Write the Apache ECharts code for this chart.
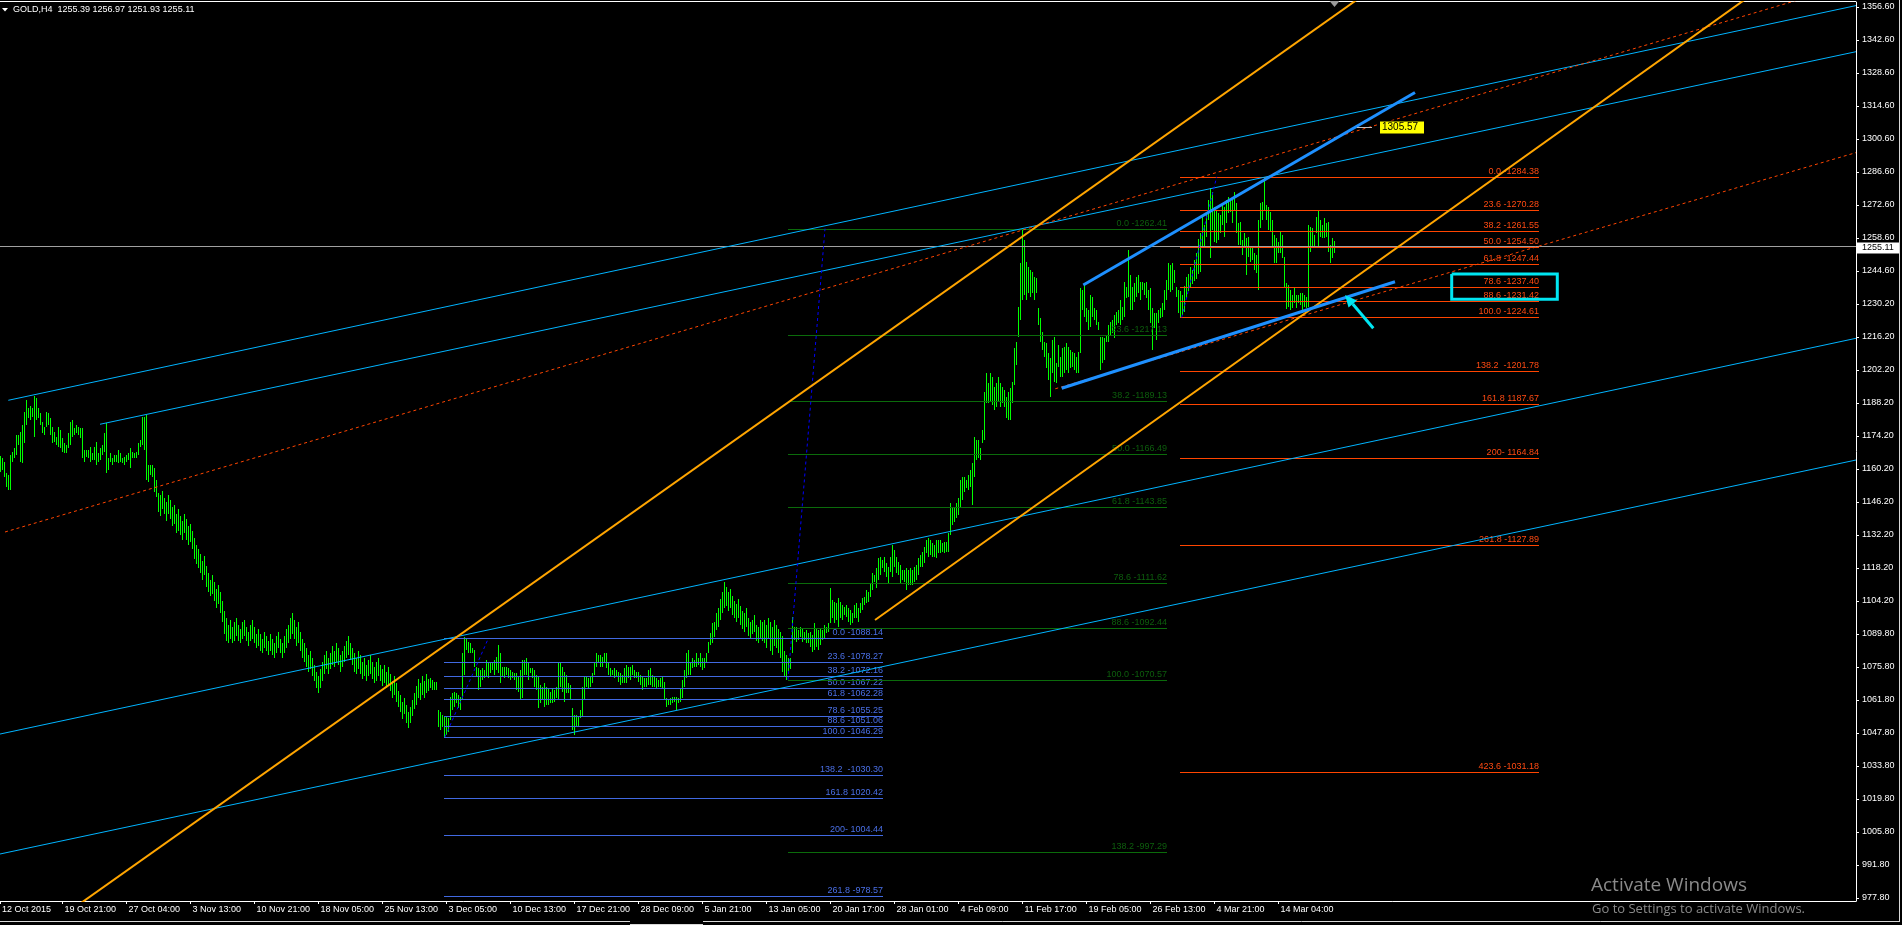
<!DOCTYPE html>
<html>
<head>
<meta charset="utf-8">
<title>GOLD,H4</title>
<script src="https://cdn.jsdelivr.net/npm/echarts@6.0.0/dist/echarts.min.js"></script>
<style>
html,body{margin:0;padding:0;background:#000;overflow:hidden;}
#chart{width:1902px;height:925px;}
</style>
</head>
<body>
<div id="chart"></div>
<script>
// ------------------------------------------------------------------ data
const symbolName = 'GOLD,H4';
const lastBarOHLC = [1255.39, 1256.97, 1251.93, 1255.11];

const xTickLabels = ['12 Oct 2015','19 Oct 21:00','27 Oct 04:00','3 Nov 13:00','10 Nov 21:00','18 Nov 05:00',
  '25 Nov 13:00','3 Dec 05:00','10 Dec 13:00','17 Dec 21:00','28 Dec 09:00','5 Jan 21:00','13 Jan 05:00',
  '20 Jan 17:00','28 Jan 01:00','4 Feb 09:00','11 Feb 17:00','19 Feb 05:00','26 Feb 13:00','4 Mar 21:00','14 Mar 04:00'];

const yTickLabels = ['977.80','991.80','1005.80','1019.80','1033.80','1047.80','1061.80','1075.80','1089.80',
  '1104.20','1118.20','1132.20','1146.20','1160.20','1174.20','1188.20','1202.20','1216.20','1230.20',
  '1244.60','1258.60','1272.60','1286.60','1300.60','1314.60','1328.60','1342.60','1356.60'];

// H4 bars (high / low), one per bar, oldest first
const barHigh = [
1165.7,1164.7,1163.3,1158.3,1157.6,1166.1,1167.5,1169.0,1174.6,1174.6,
1176.0,1178.9,1184.5,1189.5,1186.0,1186.9,1186.0,1191.2,1190.2,1186.0,
1183.8,1180.3,1178.2,1184.5,1183.8,1181.7,1178.2,1176.0,1173.9,1178.2,
1176.7,1173.2,1171.1,1170.4,1175.3,1180.3,1181.0,1177.5,1178.9,1178.2,
1177.5,1177.5,1168.2,1168.2,1168.2,1169.7,1166.8,1169.7,1171.8,1166.8,
1169.0,1170.4,1175.3,1179.6,1164.7,1166.8,1164.7,1166.1,1166.1,1168.2,
1166.8,1164.7,1165.4,1166.1,1166.8,1169.0,1167.5,1166.8,1167.5,1171.1,
1172.5,1182.4,1182.4,1183.1,1161.9,1161.9,1161.9,1160.4,1155.5,1150.0,
1149,1151,1148,1146,1149,1147,1144,1145,1141,1143,
1140,1138,1141,1139,1136,1137,1134,1131,1128,1126,
1124,1121,1123,1119,1116,1113,1115,1112,1109,1111,
1108,1104,1100,1097,1094,1096,1093,1095,1097,1094,
1092,1095,1096,1093,1091,1094,1096,1093,1090,1092,
1090,1088,1091,1089,1087,1090,1088,1086,1089,1091,
1088,1086,1089,1092,1094,1097,1099,1096,1093,1095,
1091,1088,1086,1084,1081,1083,1080,1077,1074,1072,
1075,1078,1081,1083,1080,1082,1085,1083,1086,1084,
1081,1083,1085,1087,1089,1086,1084,1082,1080,1083,
1081,1078,1080,1077,1079,1081,1078,1076,1078,1080,
1077,1075,1077,1074,1076,1073,1070,1072,1069,1066,
1064,1061,1063,1060,1057,1059,1062,1065,1068,1071,
1069,1072,1070,1073,1071,
1071.2,1070.5,1069.8,1069.8,1057.7,1057.0,1055.6,1054.9,1054.9,1054.2,
1063.4,1064.8,1065.5,1064.8,1064.1,1063.4,1081.8,1088.9,1088.2,1086.8,
1086.1,1084.0,1083.2,1076.2,1075.5,1074.7,1075.5,1074.7,1079.0,1077.6,
1078.3,1078.3,1079.0,1080.4,1085.4,1081.8,1076.2,1076.2,1076.2,1075.5,
1074.7,1074.0,1073.3,1073.3,1071.9,1074.7,1079.0,1079.0,1079.7,1077.6,
1075.5,1075.5,1074.7,1072.6,1071.9,1068.4,1067.7,1069.1,1067.7,1066.9,
1065.5,1066.9,1066.2,1067.7,1077.6,1077.6,1076.2,1074.0,1072.6,1069.1,
1068.4,1058.4,1055.6,1055.6,1054.9,1057.7,1067.7,1071.9,1071.9,1071.2,
1071.9,1073.3,1078.3,1081.8,1081.1,1081.1,1080.4,1081.8,1081.8,1078.3,
1075.5,1074.7,1075.5,1074.7,1074.0,1073.3,1072.6,1075.5,1076.9,1076.2,
1076.2,1076.9,1074.7,1074.0,1074.0,1072.6,1071.9,1071.2,1071.2,1074.7,
1075.5,1072.6,1071.9,1071.2,1070.5,1071.2,1071.9,1069.8,1062.7,1062.0,
1062.7,1063.4,1063.4,1063.4,1062.7,1066.9,1070.5,1074.7,1081.8,1083.2,
1078.3,1079.7,1079.0,1081.8,1079.7,1081.8,1079.7,1079.7,1081.8,1086.8,
1090.3,1094.6,1095.3,1099,
1101,1105,1108,1112,1110,1108,1109,1106,1104,1103,
1105,1102,1100,1099,1101,1097,1095,1096,1098,1094,
1093,1096,1095,1096,1094,1097,1095,1093,1096,1094,
1092,1091,1089,1083,1081,1080,
1080,1097.4,1093.2,1093.2,1091.7,1093.2,1092.5,1091.0,1091.7,1090.3,
1091.0,1089.6,1094.6,1092.5,1091.7,1092.5,1091.7,1093.9,1093.2,1094.6,
1109.5,1104.5,1103.8,1103.1,1105.2,1103.8,1102.4,1101.7,1102.4,1101.0,
1100.3,1098.8,1102.4,1103.1,1101.0,1103.1,1105.2,1105.9,1108.7,1108.0,
1111.6,1115.8,1115.1,1118.0,1122.2,1122.9,1121.5,1122.9,1120.1,1118.7,
1122.9,1127.9,1125.8,1122.9,1120.8,1119.4,1117.3,1117.3,1118.0,1117.3,
1118.0,1117.3,1118.7,1119.4,1122.2,1123.6,1125.0,1127.2,1130.0,1130.7,
1130.0,1128.6,1127.9,1130.0,1130.0,1130.0,1128.6,1129.3,1129.3,1132.8,
1145.6,1143.5,1144.2,1145.6,1147.7,1155.5,1156.9,1156.9,1155.5,1157.6,
1159.8,1162.6,1174.0,1172.5,1172.5,1169.0,1176.8,1193.1,1200.9,1196.6,
1200.9,1199.4,1195.2,1196.6,1199.4,1196.6,1195.2,1193.8,1190.9,1193.1,
1194.5,1197.3,1211.5,1214.3,1229.2,1247.6,1262.5,1257.5,1248.3,1246.2,
1244.8,1244.1,1242.0,1241.2,1228.5,1224.2,1218.6,1214.3,1213.6,1209.4,
1207.2,1215.0,1216.5,1205.1,1212.9,1207.9,1211.5,1212.2,1213.6,1212.2,
1210.8,1210.1,1209.4,1207.9,1210.1,1237.0,1236.3,1239.1,1228.5,1227.8,
1234.2,1233.5,1228.5,1227.8,1222.8,1216.5,1216.5,1215.7,1217.2,1221.4,
1222.8,1223.5,1225.7,1227.1,1227.8,1232.0,1229.2,1239.8,1237.7,1253.3,
1242.7,1237.7,1239.1,1242.0,1242.7,1239.8,1239.8,1239.1,1239.8,1236.3,
1237.0,1228.5,1226.4,1226.4,1227.8,1228.5,1230.6,1236.3,1240.5,1247.6,
1246.9,1247.6,1244.8,1237.7,1236.3,
1236,1234,1238,1242,1243,1246,1245,1249,1252,1258,
1260.4,1267.5,1263.9,1268.9,1274.5,1279.5,1278.1,1271.7,1270.3,1268.9,
1268.2,1273.1,1271.7,1274.5,1276.0,1274.5,1275.3,1278.1,1273.1,1264.6,
1265.3,1257.5,1260.4,1258.3,1259.0,1254.7,1254.7,1251.9,1251.2,1266.0,
1273.1,1273.8,1284.4,1272.4,1271.7,1269.6,1266.0,1259.7,1258.3,1256.8,
1261.1,1259.7,1250.5,1239.1,1238.4,1236.3,1234.2,1237.7,1234.2,1234.2,
1234.9,1234.9,1234.2,1233.5,1263.9,1263.2,1262.5,1259.7,1267.5,1270.3,
1266.0,1263.9,1266.8,1264.6,1265.3,1255.4,1258.3,1256.97
];
const barLow = [
1159.0,1159.7,1156.9,1152.7,1151.2,1151.2,1163.3,1164.7,1166.1,1170.4,
1163.3,1162.6,1171.1,1178.9,1181.7,1181.0,1182.4,1173.9,1181.0,1181.7,
1178.9,1175.3,1174.6,1178.2,1178.9,1174.6,1171.1,1171.8,1170.4,1169.7,
1169.0,1167.5,1166.8,1166.8,1169.0,1170.4,1173.9,1174.6,1175.3,1174.6,
1173.2,1164.7,1163.3,1165.4,1164.7,1163.3,1164.0,1164.0,1161.9,1163.3,
1164.0,1166.1,1167.5,1158.3,1159.7,1163.3,1161.9,1163.3,1163.3,1162.6,
1163.3,1162.6,1161.9,1163.3,1164.0,1160.4,1164.7,1164.7,1164.7,1166.1,
1169.7,1170.4,1168.2,1155.5,1154.8,1157.6,1156.9,1150.5,1148.4,1142.0,
1140,1143,1141,1138,1141,1139,1136,1137,1133,1134,
1132,1130,1133,1130,1128,1129,1126,1122,1120,1118,
1116,1113,1115,1110,1108,1106,1107,1104,1101,1103,
1099,1095,1090,1087,1086,1088,1086,1087,1089,1087,
1086,1088,1089,1087,1085,1087,1088,1086,1084,1085,
1083,1082,1084,1083,1081,1083,1081,1080,1082,1084,
1082,1080,1082,1084,1086,1088,1090,1088,1085,1086,
1083,1080,1078,1076,1074,1075,1072,1070,1067,1065,
1067,1070,1073,1075,1073,1075,1077,1076,1078,1077,
1074,1076,1078,1080,1081,1079,1077,1074,1073,1075,
1073,1071,1072,1070,1072,1073,1071,1069,1070,1072,
1070,1068,1069,1067,1068,1066,1063,1064,1061,1059,
1057,1054,1056,1052,1050,1052,1055,1058,1060,1063,
1062,1064,1063,1065,1066,
1066.9,1066.2,1066.2,1066.2,1050.7,1049.2,1050.7,1046.4,1047.1,1048.5,
1053.5,1057.7,1059.2,1060.6,1058.4,1057.7,1062.0,1072.6,1083.2,1081.8,
1081.8,1081.8,1076.2,1071.9,1066.2,1067.7,1070.5,1071.2,1071.9,1071.2,
1073.3,1074.7,1072.6,1074.7,1073.3,1069.1,1071.9,1071.2,1072.6,1071.2,
1070.5,1071.2,1070.5,1066.2,1065.5,1062.0,1062.7,1072.6,1072.6,1070.5,
1073.3,1071.2,1067.7,1066.2,1058.4,1060.6,1062.0,1059.2,1059.9,1059.9,
1060.6,1060.6,1061.3,1062.7,1062.0,1067.7,1065.5,1061.3,1064.8,1064.8,
1062.0,1049.2,1047.1,1050.7,1050.7,1054.2,1054.9,1062.0,1067.7,1066.9,
1067.7,1069.1,1072.6,1076.2,1077.6,1076.2,1076.2,1077.6,1075.5,1072.6,
1071.9,1072.6,1071.2,1071.9,1069.8,1068.4,1069.1,1069.1,1069.1,1071.2,
1070.5,1072.6,1071.2,1071.2,1069.8,1068.4,1066.2,1067.7,1067.7,1068.4,
1068.4,1067.7,1067.7,1066.9,1067.7,1067.7,1066.9,1062.0,1059.2,1059.9,
1059.9,1060.6,1061.3,1057.7,1060.6,1061.3,1062.7,1067.7,1071.2,1072.6,
1072.6,1075.5,1076.2,1076.2,1076.9,1076.2,1074.7,1075.5,1078.3,1081.8,
1085.4,1086.1,1088.9,1091.7,
1093,1096,1099,1101,1102,1100,1101,1098,1097,1095,
1097,1094,1092,1091,1093,1089,1088,1090,1091,1087,
1086,1088,1087,1086,1084,1088,1083,1081,1085,1084,
1082,1080,1074,1072,1070.6,1074.5,
1075,1081.8,1087.5,1086.8,1087.5,1088.9,1086.8,1087.5,1086.1,1086.1,
1084.7,1082.5,1083.2,1084.7,1083.2,1085.4,1087.5,1088.2,1090.3,1091.0,
1094.6,1096.7,1094.6,1096.0,1093.2,1096.7,1096.0,1098.1,1097.4,1095.3,
1093.9,1094.6,1096.7,1096.7,1095.3,1098.8,1100.3,1102.4,1103.1,1103.8,
1105.9,1108.7,1112.3,1109.5,1113.0,1115.1,1118.0,1116.5,1114.4,1111.6,
1116.5,1114.4,1118.7,1115.8,1115.1,1111.6,1113.0,1112.3,1108.7,1110.9,
1110.9,1110.9,1112.3,1113.0,1115.1,1118.7,1118.7,1120.1,1124.3,1122.9,
1123.6,1122.9,1122.9,1122.2,1124.3,1124.3,1125.0,1124.3,1125.0,1125.0,
1132.1,1136.4,1137.8,1139.2,1140.6,1144.2,1147.0,1150.6,1152.0,1151.3,
1152.7,1144.9,1156.9,1164.0,1164.7,1164.0,1171.1,1172.5,1188.1,1188.1,
1188.8,1187.4,1185.3,1186.7,1188.8,1186.7,1188.1,1186.7,1181.7,1181.0,
1181.0,1188.1,1195.9,1204.4,1216.5,1223.5,1232.0,1234.2,1232.0,1234.9,
1233.5,1234.9,1232.0,1234.9,1221.4,1214.3,1210.8,1207.9,1203.0,1198.0,
1190.9,1200.9,1197.3,1196.6,1203.7,1199.4,1199.4,1200.9,1202.3,1200.9,
1203.0,1203.7,1202.3,1200.9,1200.9,1209.4,1227.8,1225.0,1222.8,1219.3,
1220.7,1225.0,1223.5,1221.4,1219.3,1202.3,1205.1,1206.5,1214.3,1214.3,
1217.2,1217.9,1215.7,1221.4,1222.1,1221.4,1223.5,1225.0,1232.7,1233.5,
1227.8,1227.8,1231.3,1233.5,1234.9,1232.0,1236.3,1234.2,1232.7,1227.8,
1222.1,1210.8,1220.0,1215.0,1222.1,1224.2,1225.0,1227.8,1232.0,1236.3,
1235.6,1236.3,1239.1,1233.5,1226.4,
1224.6,1225.5,1227,1233,1236,1237,1239,1240,1241,1243,
1244.1,1254.7,1254.7,1259.0,1266.0,1249.7,1261.8,1256.8,1256.1,1257.5,
1260.4,1263.9,1259.0,1264.6,1268.9,1269.6,1264.6,1270.3,1260.4,1255.4,
1255.4,1251.2,1254.7,1242.7,1250.5,1248.3,1249.0,1244.8,1243.4,1236.3,
1262.5,1266.0,1270.3,1266.0,1261.8,1261.1,1254.7,1247.6,1247.6,1251.9,
1251.9,1249.7,1237.7,1228.0,1229.2,1227.8,1228.5,1230.6,1228.5,1230.6,
1229.9,1226.5,1229.2,1228.5,1229.2,1252.6,1254.7,1254.0,1260.4,1254.7,
1259.0,1258.3,1258.3,1259.0,1252.6,1247.6,1249.7,1251.93
];

// drawn objects, as [barIndex, price] points
const cyanChannel = [
  [[3.9, 1189.4], [927.75, 1357.2]],
  [[49.75, 1179.2], [927.75, 1337.6]],
  [[-0.25, 1047.5], [927.75, 1215.75]],
  [[-0.25, 996.5], [927.75, 1164.0]]
];
const orangeTrend = [
  [[-0.25, 951.3], [700, 1372.8]],
  [[437.25, 1096.0], [880, 1364.5]]
];
const redDotted = [
  [[2.25, 1133.4], [927.75, 1366.9]],
  [[527.4, 1194.3], [927.75, 1294.7]]
];
const blueWedge = [
  [[541.4, 1238.4], [707.25, 1320.25]],
  [[530.6, 1194.5], [697.25, 1239.8]]
];
const fibTrend = [
  [[222.25, 1046.29], [243.9, 1088.14]],
  [[393.75, 1070.57], [412.25, 1262.41]],
  [[590.6, 1224.61], [608.1, 1284.38]]
];

const blueFibSpan = [221.75, 441.1];
const blueFibPrices = [1088.14, 1078.27, 1072.16, 1067.22, 1062.28, 1055.25, 1051.06, 1046.29, 1030.30, 1020.42, 1004.44, 978.57];
const blueFibLabels = ['0.0 -1088.14','23.6 -1078.27','38.2 -1072.16','50.0 -1067.22','61.8 -1062.28','78.6 -1055.25',
  '88.6 -1051.06','100.0 -1046.29','138.2  -1030.30','161.8 1020.42','200- 1004.44','261.8 -978.57'];

const greenFibSpan = [393.75, 583.1];
const greenFibPrices = [1262.41, 1217.13, 1189.13, 1166.49, 1143.85, 1111.62, 1092.44, 1070.57, 997.29];
const greenFibLabels = ['0.0 -1262.41','23.6 -1217.13','38.2 -1189.13','50.0 -1166.49','61.8 -1143.85',
  '78.6 -1111.62','88.6 -1092.44','100.0 -1070.57','138.2 -997.29'];

const redFibSpan = [589.75, 769.25];
const redFibPrices = [1284.38, 1270.28, 1261.55, 1254.50, 1247.44, 1237.40, 1231.42, 1224.61, 1201.78, 1187.67, 1164.84, 1127.89, 1031.18];
const redFibLabels = ['0.0 -1284.38','23.6 -1270.28','38.2 -1261.55','50.0 -1254.50','61.8 -1247.44','78.6 -1237.40',
  '88.6 -1231.42','100.0 -1224.61','138.2  -1201.78','161.8 1187.67','200- 1164.84','261.8 -1127.89','423.6 -1031.18'];

const bidPrice = 1255.11;
const noteBox = [[725.6, 1243.1], [778.4, 1243.1], [778.4, 1232.3], [725.6, 1232.3], [725.6, 1243.1]];
const noteArrow = [[686.4, 1220.0], [672.25, 1234.2]];
const priceTag = { from: 678.25, to: 685.75, box: 689.25, price: 1305.57, text: '1305.57' };

// ------------------------------------------------------------------ layout helpers
const X_MIN = -0.25, X_MAX = 927.75;
const Y_MIN = 976.525, Y_MAX = 1358.726;
const FONT = '"Liberation Sans", Arial, sans-serif';

const yFirst = parseFloat(yTickLabels[0]);
const yLast = parseFloat(yTickLabels[yTickLabels.length - 1]);
const yStep = (yLast - yFirst) / (yTickLabels.length - 1);
const yTickVals = yTickLabels.map((_, i) => yFirst + i * yStep);
const xTickVals = xTickLabels.map((_, k) => (k === 0 ? X_MIN : 32 * k - 1));

function segSeries(seg, color, width, type, z) {
  return {
    type: 'line', data: seg, symbol: 'none', showSymbol: false, clip: true, silent: true,
    animation: false, z: z, lineStyle: { color: color, width: width, type: type, cap: 'butt' }
  };
}

function fibSeries(prices, labels, span, lineColor, textColor) {
  return {
    type: 'custom', silent: true, animation: false, z: 2, clip: false,
    data: prices.map((p, i) => [span[0], p, span[1], i]),
    encode: { x: [0, 2], y: 1 },
    renderItem: (params, api) => {
      const a = api.coord([api.value(0), api.value(1)]);
      const b = api.coord([api.value(2), api.value(1)]);
      const y = Math.round(a[1]) + 0.5;
      return {
        type: 'group', children: [
          { type: 'line', shape: { x1: Math.round(a[0]), y1: y, x2: Math.round(b[0]), y2: y }, style: { stroke: lineColor, lineWidth: 1 } },
          { type: 'text', x: Math.round(b[0]), y: y - 1.5, style: { text: labels[api.value(3)], fill: textColor, font: '9px ' + FONT, align: 'right', verticalAlign: 'bottom' } }
        ]
      };
    }
  };
}

const series = [];

// price bars
series.push({
  type: 'custom', silent: true, animation: false, z: 1, clip: true,
  data: barHigh.map((h, i) => [i, h, barLow[i]]),
  encode: { x: 0, y: [1, 2] },
  renderItem: (params, api) => {
    const j = api.value(0);
    const t = api.coord([j, api.value(1)]);
    const b = api.coord([j, api.value(2)]);
    const x = Math.floor(t[0]) + 0.5;
    const y1 = Math.round(t[1]);
    const y2 = Math.max(Math.round(b[1]), y1 + 1);
    return { type: 'line', shape: { x1: x, y1: y1, x2: x, y2: y2 }, style: { stroke: '#00ff00', lineWidth: 1 } };
  }
});

// fibonacci sets
series.push(fibSeries(blueFibPrices, blueFibLabels, blueFibSpan, '#4169e1', '#4a6fe6'));
series.push(fibSeries(greenFibPrices, greenFibLabels, greenFibSpan, '#0b6b0b', '#0d5f0d'));
series.push(fibSeries(redFibPrices, redFibLabels, redFibSpan, '#ff4500', '#ff4a12'));

// bid line with price box
series.push({
  type: 'custom', silent: true, animation: false, z: 3, clip: false,
  data: [[X_MIN, bidPrice]],
  encode: { x: 0, y: 1 },
  renderItem: (params, api) => {
    const a = api.coord([X_MIN, bidPrice]);
    const b = api.coord([X_MAX, bidPrice]);
    const y = Math.round(a[1]) + 0.5;
    return {
      type: 'group', children: [
        { type: 'line', shape: { x1: a[0], y1: y, x2: b[0], y2: y }, style: { stroke: '#a0a0a0', lineWidth: 1 } },
        { type: 'rect', shape: { x: b[0] + 1, y: y - 4, width: 42, height: 11 }, style: { fill: '#ffffff' } },
        { type: 'text', x: b[0] + 6, y: y + 1.5, style: { text: bidPrice.toFixed(2), fill: '#000', font: '9px ' + FONT, verticalAlign: 'middle' } }
      ]
    };
  }
});

// trend lines
cyanChannel.forEach(s => series.push(segSeries(s, '#00b4ff', 1, 'solid', 4)));
redDotted.forEach(s => series.push(segSeries(s, '#ff4500', 1, [3, 3], 4)));
fibTrend.forEach(s => series.push(segSeries(s, '#0000ff', 1, [3, 3], 4)));
orangeTrend.forEach(s => series.push(segSeries(s, '#ffa500', 2, 'solid', 5)));
blueWedge.forEach(s => series.push(segSeries(s, '#1e90ff', 3, 'solid', 6)));

// cyan rectangle
series.push(Object.assign(segSeries(noteBox, '#00e6f2', 3, 'solid', 7), { lineStyle: { color: '#00e6f2', width: 3, join: 'miter' } }));

// cyan arrow
series.push({
  type: 'custom', silent: true, animation: false, z: 7, clip: false,
  data: [noteArrow[1]],
  encode: { x: 0, y: 1 },
  renderItem: (params, api) => {
    const a = api.coord(noteArrow[0]);
    const b = api.coord(noteArrow[1]);
    const dx = b[0] - a[0], dy = b[1] - a[1], L = Math.hypot(dx, dy);
    const ux = dx / L, uy = dy / L, hl = 12, hw = 5.5;
    const base = [b[0] - ux * hl, b[1] - uy * hl];
    return {
      type: 'group', children: [
        { type: 'line', shape: { x1: a[0], y1: a[1], x2: base[0], y2: base[1] }, style: { stroke: '#00e6f2', lineWidth: 3 } },
        { type: 'polygon', shape: { points: [b, [base[0] - uy * hw, base[1] + ux * hw], [base[0] + uy * hw, base[1] - ux * hw]] }, style: { fill: '#00e6f2' } }
      ]
    };
  }
});

// price tag 1305.57
series.push({
  type: 'custom', silent: true, animation: false, z: 7, clip: false,
  data: [[priceTag.box, priceTag.price]],
  encode: { x: 0, y: 1 },
  renderItem: (params, api) => {
    const f = api.coord([priceTag.from, priceTag.price]);
    const t = api.coord([priceTag.to, priceTag.price]);
    const bx = api.coord([priceTag.box, priceTag.price]);
    const y = Math.round(f[1]) + 0.5;
    return {
      type: 'group', children: [
        { type: 'line', shape: { x1: f[0], y1: y, x2: t[0], y2: y }, style: { stroke: '#c0c0c0', lineWidth: 1 } },
        { type: 'rect', shape: { x: Math.round(bx[0]) + 0.5, y: y - 6.5, width: 45, height: 13 }, style: { fill: '#ffff00', stroke: '#000', lineWidth: 1 } },
        { type: 'text', x: Math.round(bx[0]) + 3, y: y, style: { text: priceTag.text, fill: '#000', font: '10px ' + FONT, verticalAlign: 'middle' } }
      ]
    };
  }
});

// chart-shift marker above the last bar
series.push({
  type: 'custom', silent: true, animation: false, z: 8, clip: false,
  data: [[barHigh.length - 1, Y_MAX]],
  encode: { x: 0, y: 1 },
  renderItem: (params, api) => {
    const p = api.coord([api.value(0), Y_MAX]);
    const x = p[0];
    return { type: 'polygon', shape: { points: [[x - 5, 1], [x + 5, 1], [x, 7]] }, style: { fill: '#9a9a9a' } };
  }
});

const headerText = symbolName + '  ' + lastBarOHLC.map(v => v.toFixed(2)).join(' ');

const option = {
  backgroundColor: '#000000',
  animation: false,
  grid: { left: 0, right: 46, top: 2, bottom: 24, containLabel: false, outerBoundsMode: 'none' },
  xAxis: {
    type: 'value', min: X_MIN, max: X_MAX, position: 'bottom',
    axisLine: { show: true, onZero: false, lineStyle: { color: '#ffffff', width: 1 } },
    axisTick: { show: true, customValues: xTickVals, length: 3, lineStyle: { color: '#ffffff' } },
    axisLabel: {
      customValues: xTickVals, color: '#ffffff', fontSize: 9, fontFamily: FONT, align: 'left', margin: 4, padding: [0, 0, 0, 2],
      formatter: v => xTickLabels[v < 0 ? 0 : Math.round((v + 1) / 32)] || ''
    },
    splitLine: { show: false }
  },
  yAxis: {
    type: 'value', min: Y_MIN, max: Y_MAX, position: 'right', scale: true,
    axisLine: { show: true, onZero: false, lineStyle: { color: '#ffffff', width: 1 } },
    axisTick: { show: true, customValues: yTickVals, length: 3, lineStyle: { color: '#ffffff' } },
    axisLabel: {
      customValues: yTickVals, color: '#ffffff', fontSize: 9, fontFamily: FONT, margin: 6,
      formatter: v => yTickLabels[Math.round((v - yFirst) / yStep)] || ''
    },
    splitLine: { show: false }
  },
  graphic: [
    { type: 'line', shape: { x1: 0, y1: 1.5, x2: 1856, y2: 1.5 }, style: { stroke: '#ffffff', lineWidth: 1 }, silent: true },
    { type: 'line', shape: { x1: 1899.5, y1: 0, x2: 1899.5, y2: 922 }, style: { stroke: '#d8d8d8', lineWidth: 1 }, silent: true },
    { type: 'line', shape: { x1: 0, y1: 921.5, x2: 630, y2: 921.5 }, style: { stroke: '#d8d8d8', lineWidth: 1 }, silent: true },
    { type: 'line', shape: { x1: 703, y1: 921.5, x2: 1900, y2: 921.5 }, style: { stroke: '#d8d8d8', lineWidth: 1 }, silent: true },
    { type: 'line', shape: { x1: 630, y1: 924.5, x2: 703, y2: 924.5 }, style: { stroke: '#d8d8d8', lineWidth: 1 }, silent: true },
    { type: 'polygon', shape: { points: [[2, 8], [8, 8], [5, 11.5]] }, style: { fill: '#ffffff' }, silent: true },
    { type: 'text', x: 13, y: 9.5, style: { text: headerText, fill: '#ffffff', font: '9px ' + FONT, verticalAlign: 'middle' }, silent: true },
    { type: 'text', x: 1591, y: 886, style: { text: 'Activate Windows', fill: '#8a8a8a', font: '19px "Open Sans", sans-serif', verticalAlign: 'middle' }, silent: true },
    { type: 'text', x: 1592, y: 909, style: { text: 'Go to Settings to activate Windows.', fill: '#8a8a8a', font: '13px "Open Sans", sans-serif', verticalAlign: 'middle' }, silent: true }
  ],
  series: series
};

const chart = echarts.init(document.getElementById('chart'), null, { renderer: 'canvas' });
chart.setOption(option);
</script>
</body>
</html>
